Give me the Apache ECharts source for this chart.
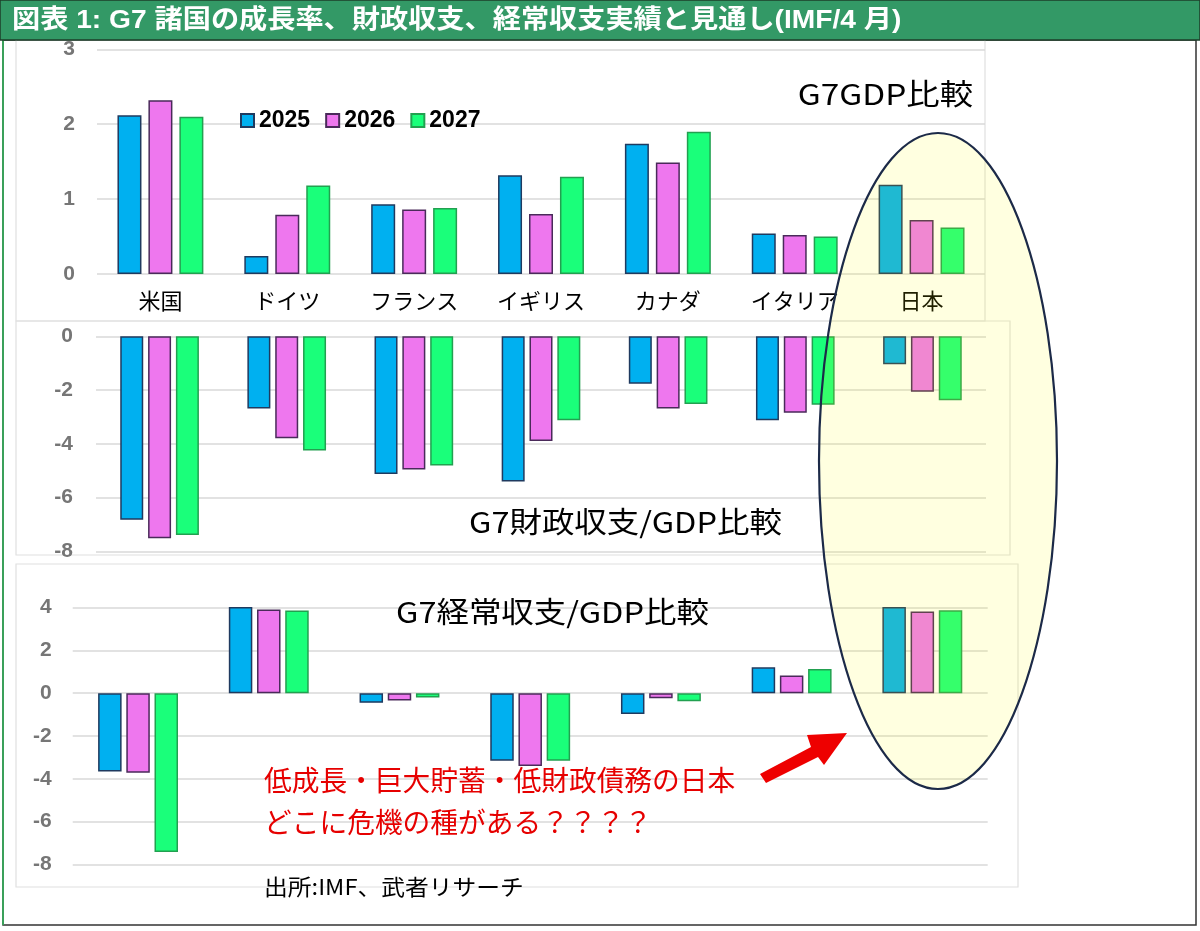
<!DOCTYPE html>
<html lang="ja">
<head>
<meta charset="UTF-8">
<title>G7 比較</title>
<script src="https://cdn.jsdelivr.net/npm/echarts@6/dist/echarts.min.js"></script>
<style>
  * { margin: 0; padding: 0; }
  body { background: #fff; }
  #main { width: 1200px; height: 931px; }
</style>
</head>
<body>
<div id="main"></div>
<script>
  // 国名（横軸）
  var countries = ['米国', 'ドイツ', 'フランス', 'イギリス', 'カナダ', 'イタリア', '日本'];
  var years = ['2025', '2026', '2027'];

  // 実質GDP成長率 (%)
  var gdp2025 = [2.12, 0.24, 0.93, 1.32, 1.74, 0.54, 1.19];
  var gdp2026 = [2.32, 0.79, 0.86, 0.80, 1.49, 0.52, 0.72];
  var gdp2027 = [2.10, 1.18, 0.88, 1.30, 1.90, 0.50, 0.62];

  // 財政収支/GDP (%)
  var fiscal2025 = [-6.83, -2.69, -5.12, -5.40, -1.77, -3.12, -1.04];
  var fiscal2026 = [-7.51, -3.79, -4.96, -3.90, -2.69, -2.84, -2.06];
  var fiscal2027 = [-7.39, -4.25, -4.81, -3.12, -2.52, -2.55, -2.38];

  // 経常収支/GDP (%)
  var ca2025 = [-3.66, 4.43, -0.45, -3.16, -0.97, 1.21, 4.83];
  var ca2026 = [-3.72, 3.91, -0.34, -3.40, -0.23, 0.83, 3.82];
  var ca2027 = [-7.42, 3.87, -0.20, -3.16, -0.37, 1.13, 3.88];

  var fills = ['#00b0f0', '#ee77ee', '#1aff7a'];
  var edges = ['#1f3a5f', '#4a2a5a', '#22a050'];

  var jp = '"Noto Sans CJK JP", sans-serif';
  var num = '"Liberation Sans", "Noto Sans CJK JP", sans-serif';

  function bars(idx, list, width, gap) {
    return list.map(function (d, i) {
      return {
        name: years[i],
        type: 'bar',
        xAxisIndex: idx,
        yAxisIndex: idx,
        data: d,
        barWidth: width,
        barGap: gap,
        itemStyle: { color: fills[i], borderColor: edges[i], borderWidth: 1.5 },
        emphasis: { disabled: true }
      };
    });
  }

  function yAxis(idx, min, max, step, margin) {
    return {
      type: 'value', gridIndex: idx, min: min, max: max, interval: step,
      axisLine: { show: false }, axisTick: { show: false },
      splitLine: { lineStyle: { color: '#d9d9d9', width: 1.5 } },
      axisLabel: { color: '#767676', fontWeight: 'bold', fontSize: 21, fontFamily: num, margin: margin }
    };
  }

  function xAxis(idx, labels) {
    return {
      type: 'category', gridIndex: idx, data: countries,
      axisLine: { show: false }, axisTick: { show: false },
      axisLabel: { show: labels, color: '#000', fontSize: 22, fontFamily: jp, margin: 16 }
    };
  }

  var series = []
    .concat(bars(0, [gdp2025, gdp2026, gdp2027], 24, '29%'))
    .concat(bars(1, [fiscal2025, fiscal2026, fiscal2027], 23, '21%'))
    .concat(bars(2, [ca2025, ca2026, ca2027], 23.5, '20%'));

  // 注記テキスト（横に少し伸ばして元図の字幅に合わせる）
  function label(txt, x, y, font, color, sx, align) {
    return {
      type: 'text', x: x, y: y, z: 60, scaleX: sx,
      style: { text: txt, font: font, fill: color, textAlign: align || 'left', textVerticalAlign: 'middle' }
    };
  }

  // 飾り：タイトル帯、枠、楕円、矢印、注記
  var gfx = [
    { type: 'rect', shape: { x: 3, y: 40, width: 1193, height: 885 }, style: { fill: '#fff', stroke: '#333', lineWidth: 1.5 }, z: -10 },
    { type: 'line', shape: { x1: 3, y1: 40, x2: 3, y2: 925 }, style: { stroke: '#3aa05a', lineWidth: 2 }, z: -9 },
    { type: 'rect', shape: { x: 16, y: 40, width: 969, height: 281 }, style: { fill: 'none', stroke: '#e0e0e0', lineWidth: 1.2 }, z: -8 },
    { type: 'rect', shape: { x: 16, y: 321, width: 994, height: 234 }, style: { fill: 'none', stroke: '#e0e0e0', lineWidth: 1.2 }, z: -8 },
    { type: 'rect', shape: { x: 16, y: 564, width: 1002, height: 323 }, style: { fill: 'none', stroke: '#e0e0e0', lineWidth: 1.2 }, z: -8 },
    { type: 'rect', shape: { x: 0, y: 0, width: 1200, height: 40 }, style: { fill: '#339966', stroke: '#1e3e2a', lineWidth: 1.5 }, z: 50 },
    label('図表 1: G7 諸国の成長率、財政収支、経常収支実績と見通し(IMF/4 月)', 12, 21, 'bold 26px ' + num, '#fff', 1.084),
    label('G7GDP比較', 973, 94, '29px ' + jp, '#000', 1.15, 'right'),
    label('G7財政収支/GDP比較', 469, 522, '29px ' + jp, '#000', 1.12),
    label('G7経常収支/GDP比較', 396, 612, '29px ' + jp, '#000', 1.12),
    label('低成長・巨大貯蓄・低財政債務の日本', 264, 780, '28px ' + jp, '#e60000', 0.99),
    label('どこに危機の種がある？？？？', 264, 822, '28px ' + jp, '#e60000', 0.99),
    label('出所:IMF、武者リサーチ', 264, 887, '22px ' + jp, '#000', 1.08),
    { type: 'polygon', z: 60, shape: { points: [[760, 774], [811, 747], [807, 735], [847, 733], [824, 765], [818, 757], [766, 783]] }, style: { fill: '#ee0000' } },
    { type: 'ellipse', z: 100, shape: { cx: 938, cy: 461, rx: 119, ry: 328 }, style: { fill: 'rgba(255,255,0,0.12)', stroke: '#1c2a48', lineWidth: 2.2 } }
  ];

  var chart = echarts.init(document.getElementById('main'));
  chart.setOption({
    animation: false,
    backgroundColor: '#fff',
    legend: {
      data: years, left: 235, top: 104, itemWidth: 13, itemHeight: 13, itemGap: 15,
      icon: 'rect',
      textStyle: { fontSize: 23, fontWeight: 'bold', color: '#000', fontFamily: num }
    },
    grid: [
      { left: 97, top: 49.3, width: 888, height: 224.7 },
      { left: 96, top: 336.3, width: 890, height: 215 },
      { left: 72.7, top: 607.7, width: 915, height: 256.6 }
    ],
    xAxis: [xAxis(0, true), xAxis(1, false), xAxis(2, false)],
    yAxis: [
      yAxis(0, 0, 3, 1, 22),
      yAxis(1, -8, 0, 2, 23),
      yAxis(2, -8, 4, 2, 21)
    ],
    series: series,
    graphic: { elements: gfx }
  });
</script>
</body>
</html>
